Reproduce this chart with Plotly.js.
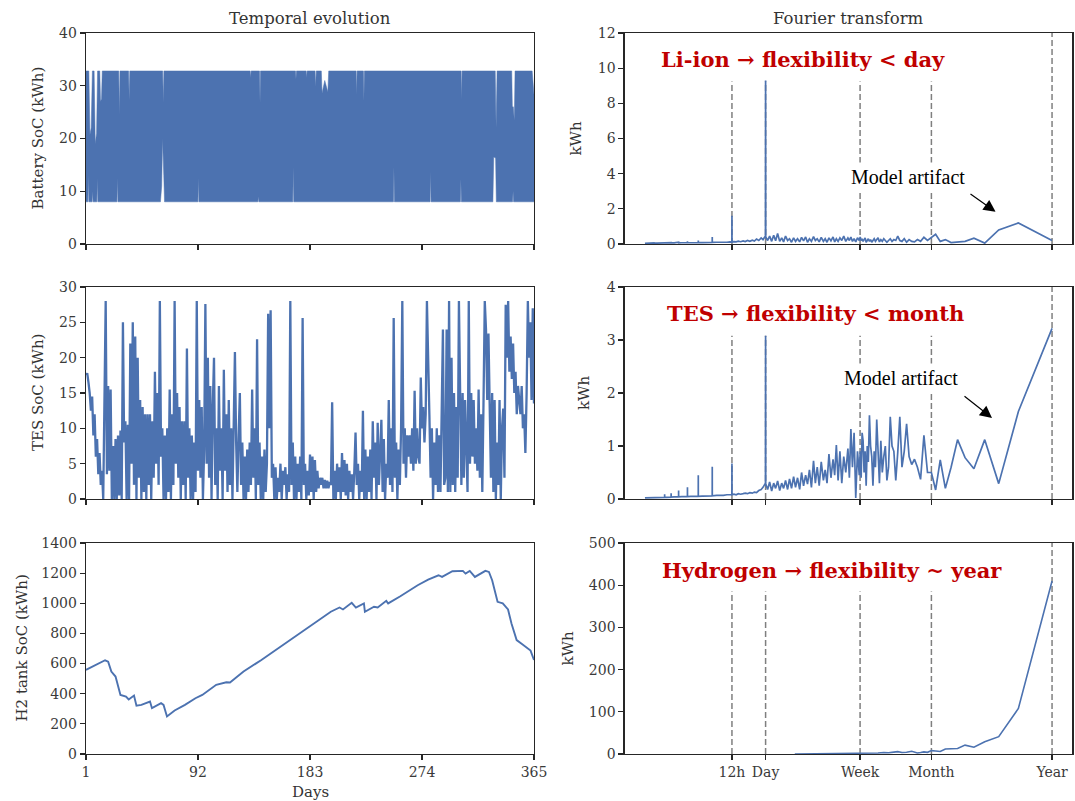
<!DOCTYPE html>
<html><head><meta charset="utf-8">
<script src="https://cdn.plot.ly/plotly-3.0.1.min.js"></script>
<style>html,body{margin:0;padding:0;background:#fff}#chart{width:1075px;height:801px}</style>
</head><body><div id="chart"></div>
<script>
// ---------------- data ----------------
const day_ticks = [1, 92, 183, 274, 365];

// Battery SoC: upper and lower envelope of the hourly band (kWh)
const bat_upper_day = [1,3.3,4.2,5.2,6.2,7.6,8.5,9.6,10.4,12.2,12.8,13.6,14.2,27.6,28.1,28.6,35.6,36.1,36.6,63.3,63.8,64.3,134.4,134.8,135.2,142,142.4,142.8,171.2,171.6,172,179.9,180.3,180.7,187.1,187.6,188.1,192.2,192.8,195,197.5,198.2,220.5,220.9,221.3,226.4,226.8,227.2,305.8,306.2,306.6,333.5,334.2,335,346.9,347.4,348.2,349,349.6,363.5,365];
const bat_upper     = [32.8,32.8,20.7,22,32.8,32.8,19,21,32.8,32.8,27,27.5,32.8,32.8,24.5,32.8,32.8,27.3,32.8,32.8,26.8,32.8,32.8,31.5,32.8,32.8,26.7,32.8,32.8,31.3,32.8,32.8,31.5,32.8,32.8,29.8,32.8,32.8,28.6,31,28.8,32.8,32.8,28.3,32.8,32.8,27.1,32.8,32.8,27.4,32.8,32.8,22,32.8,32.8,26,26,23.4,32.8,32.8,28.3];
const bat_lower_day = [1,2.5,2.9,3.3,6,6.4,6.8,9.8,10.2,10.6,26.1,26.5,26.9,61.5,62.5,63.2,64.2,64.8,91.9,92.3,92.7,140.6,141,141.4,169,169.4,169.8,250.8,251.2,251.6,280.6,281,281.4,305.2,305.6,306,331.6,332.3,333.8,334.4,347.6,348,348.4,365];
const bat_lower     = [8,8,13,8,8,10,8,8,12.4,8,8,12.5,8,8,11,20,13,8,8,12.5,8,8,9,8,8,14.6,8,8,14.6,8,8,13.7,8,8,12.3,8,8,16.5,16.3,8,8,10,8,8];

// TES SoC, one representative value per day (kWh)
const tes_soc = [
17.5,17.8,16.5,15,12.5,14.5,9,12,6,8.5,
3.5,6.5,2,4,0,19,28,3.5,16,4,
15.5,0,7.5,0,8.5,0,9,0.5,9.7,0,
25,8,11,0,10.5,0,22,5,25,2,
23,0,20,3,14,0,13,1,12,0,
12,2,12,0,11,3,18,5,15,2,
28,6,10,0,9,0,10,1,15.5,0,
12,2,28,5,15,3,13,0,11,2,
11,0,21.3,3,10,0,9,0,8,1,
28,4,14,3,13,0,7,27.6,5,20,
3,16,0,13,20,2,10,0,16,4,
10,0,18.3,4,12,1,14,2,10,0,
8,20.8,8,1,9,15,2,8,0,6,
0,7,1,8,2,15.5,3,10,0,22.6,
2,8,0,6,0,7,1,5,26.2,10,
26.7,3,5,0,4.5,0,3,1,5,0,
4,2,4.5,0,3.5,1,28,2,8,0,
6,0,5,1,6,0,25.6,2,5,0,
4,0.5,6.3,1,6,0,5.5,1,4,1.5,
3,2,3,1.5,2.7,1.5,2.6,1.5,2.4,2,
13.7,0,4,0,5,1,4.5,0,6.5,1,
5.5,0.5,5,0,4,1,3.5,0,4,9.4,
2,5,0,4,1,12.5,0,7,0,6,
1,7,0,11,3,8,0,10.8,2,8,
11.2,1,8.5,0,5,3,14,2,10,1,
25.6,3,8,0,7,2,10,28,5,10,
3,9,6,9,5,10,4,15.3,5,10,
6,5,17.2,10,13,8,12,28,21.5,12,
3,10,0,8,2,10,1,9,1,12,
24,2,3,24,1,28,1,20,2,15,
1,13,3,28,13,2,15,3,14,5,
1,28,5,15,6,14,5,10,4,15.5,
3,12,1,14,28,24,14,23.4,15,3,
15,1,14,0,8,2,14,0,10,12.8,
3,27.5,20,28,18,23,17,22,15,18,
12,16,14,12,16,10,12,6.5,15,28,
20,25,14,27,13.5];

// H2 tank SoC (kWh)
const h2_day = [1,15,16.5,19,21.6,25,29,33.5,35.7,40,42,46,50,53,54.6,59,62,64,66.8,73,81.4,89.9,95.5,106.8,115,118,129,143.5,157.6,171.7,185.8,199.9,207,209.8,216.9,220.3,226.8,227.6,235,238,245,246.5,256.4,270.5,279,287.4,290.3,298.7,307.2,309.4,312.8,317,325.5,328.4,331,335.4,339.6,343.9,346.7,350.9,355.2,359.4,362.2,365];
const h2_soc = [558,613,622,613,547,514,392,381,362,388,320,326,337,348,304,322,337,326,249,289,326,370,392,459,476,474,547,624,705,783,866,944,972,959,1003,972,999,944,977,972,1016,999,1047,1120,1157,1186,1175,1213,1215,1197,1215,1175,1215,1208,1153,1010,999,959,866,756,730,701,686,624];

// Fourier spectra: frequency in cycles per year (1 = year ... 4380 = 2 h)
const fft_cycles_per_year = [
4380,4200,4000,3800,3651,3650,3649,3400,3200,3000,
2921,2920,2919,2800,2700,2556,2555,2554,2400,2300,
2191,2190,2189,2050,1950,1826,1825,1824,1700,1600,
1461,1460,1459,1350,1250,1150,1096,1095,1094,1000,
930,870,810,760,731,730,729,700,670,640,
610,580,555,530,505,480,460,440,420,400,
385,366,365,364,350,336,322,309,297,285,
273,262,252,242,232,223,214,205,197,189,
181,174,167,160,154,148,142,136,131,126,
121,116,111,107,103,99,95,91,88,85,
82,79,76,73,70,67,65,63,61,59,
57,55,53,52,51,50,49,48,47,46,
45,44,43,42,41,40,39,38,37,36,
35,34,33,32,31,30,29,28,27,26,
25,24,23,22,21,20,19,18,17,16,
15,14,13,12,11,10,9,8,7,6,
5,4,3,2,1];
const liion_fft = [
0.04,0.05,0.04,0.05,0.05,0.06,0.05,0.05,0.06,0.05,
0.06,0.07,0.06,0.06,0.06,0.06,0.08,0.06,0.06,0.07,
0.06,0.1,0.06,0.07,0.06,0.07,0.15,0.07,0.07,0.08,
0.07,0.2,0.08,0.08,0.09,0.08,0.09,0.4,0.09,0.1,
0.09,0.11,0.1,0.12,0.11,1.6,0.12,0.14,0.12,0.16,
0.13,0.18,0.14,0.2,0.15,0.22,0.17,0.28,0.2,0.35,
0.25,0.45,9.3,0.4,0.2,0.45,0.15,0.5,0.18,0.6,
0.15,0.35,0.12,0.45,0.2,0.3,0.1,0.35,0.15,0.3,
0.12,0.38,0.18,0.4,0.1,0.3,0.15,0.42,0.2,0.3,
0.12,0.38,0.15,0.3,0.1,0.35,0.18,0.4,0.12,0.3,
0.15,0.35,0.2,0.45,0.15,0.35,0.2,0.4,0.15,0.3,
0.12,0.35,0.2,0.4,0.2,0.3,0.15,0.25,0.35,0.1,
0.2,0.3,0.15,0.25,0.1,0.2,0.3,0.15,0.25,0.35,
0.12,0.25,0.15,0.3,0.2,0.1,0.2,0.3,0.15,0.25,
0.2,0.45,0.2,0.15,0.3,0.1,0.25,0.15,0.12,0.25,
0.15,0.38,0.2,0.35,0.55,0.15,0.25,0.08,0.1,0.15,
0.33,0.05,0.8,1.2,0.2];
const tes_fft = [
0.02,0.02,0.02,0.025,0.02,0.03,0.02,0.025,0.03,0.03,
0.03,0.09,0.03,0.03,0.035,0.035,0.11,0.035,0.04,0.04,
0.04,0.16,0.04,0.045,0.04,0.045,0.22,0.045,0.05,0.05,
0.05,0.45,0.05,0.055,0.06,0.06,0.06,0.61,0.06,0.07,
0.065,0.07,0.08,0.08,0.08,0.67,0.08,0.09,0.08,0.1,
0.09,0.1,0.11,0.1,0.12,0.11,0.13,0.12,0.16,0.18,
0.22,0.3,3.08,0.28,0.18,0.32,0.15,0.3,0.2,0.34,
0.16,0.3,0.2,0.35,0.18,0.38,0.2,0.42,0.22,0.4,
0.18,0.5,0.25,0.45,0.28,0.55,0.22,0.72,0.3,0.6,
0.25,0.7,0.35,0.55,0.3,0.85,0.4,0.75,0.45,1.02,
0.35,0.9,0.3,0.8,0.5,0.95,0.4,1.32,0.6,1.25,
0.02,0.9,0.45,0.9,0.4,1.25,1.1,0.5,0.9,0.25,
1.0,0.7,1.58,1.0,0.8,0.25,0.9,0.6,1.5,1.0,
0.3,1.1,0.5,0.8,1.0,0.35,0.6,1.55,1.0,0.9,
0.35,0.88,1.55,0.6,0.9,1.42,0.8,0.65,0.75,0.6,
0.37,1.2,0.5,0.5,0.17,0.74,0.2,0.6,1.12,0.78,
0.57,1.12,0.29,1.65,3.22];
const h2_cycles_per_year = [200,120,90,70,60,52,45,40,36,32,29,26,24,22,20,18,16,15,14,13,12,11,10,9,8,7,6,5,4,3,2,1];
const h2_fft = [0.1,0.3,0.5,0.8,1,1.5,1.8,2.2,2.5,3.5,2.8,4.5,5.5,3.5,4,6.5,2.5,3.5,5,4,8,7,6,12,12,13,21,16,29,41,108,410];

// reference periods (cycles per year) and their labels
const period_marks = [730, 365, 52.14, 12, 1];
const period_labels = ['12h', 'Day', 'Week', 'Month', 'Year'];

// ---------------- drawing ----------------
const W = 1075, H = 801;
const px = v => v / W, py = v => 1 - v / H;
const BLUE = '#4c72b0', INK = '#262626', FONT = 'DejaVu Serif';
const tes_day = tes_soc.map((_, i) => i + 1);

function ax(extra) {
  return Object.assign({
    showline: true, mirror: true, linecolor: INK, linewidth: 1.25,
    ticks: 'outside', ticklen: 5, tickwidth: 1.25, tickcolor: INK,
    showgrid: false, zeroline: false, fixedrange: true, layer: 'above traces',
    tickfont: {family: FONT, size: 14, color: '#3a3a3a'}
  }, extra);
}
const LX = [px(86), px(534)], RX = [px(624.6), px(1072.4)];
const Y1 = [py(244), py(33)], Y2 = [py(499), py(287)], Y3 = [py(754), py(543)];
const leftX = (dom, anchor, labels) => ax({domain: dom, anchor: anchor, range: [1, 365], tickvals: day_ticks, showticklabels: labels});
const rightX = (anchor, labels) => ax({domain: RX, anchor: anchor, type: 'log', range: [3.82354, -0.18207], tickvals: period_marks, ticktext: period_labels, showticklabels: labels});

const line = (x, y, xa, ya, w) => ({x: x, y: y, xaxis: xa, yaxis: ya, mode: 'lines', line: {color: BLUE, width: w || 1.5}, hoverinfo: 'skip', showlegend: false});

const traces = [
  line(bat_lower_day, bat_lower, 'x', 'y', 0.5),
  Object.assign(line(bat_upper_day, bat_upper, 'x', 'y', 0.5), {fill: 'tonexty', fillcolor: BLUE}),
  line(fft_cycles_per_year, liion_fft, 'x2', 'y2', 1.7),
  line(tes_day, tes_soc, 'x3', 'y3', 2.3),
  line(fft_cycles_per_year, tes_fft, 'x4', 'y4', 1.7),
  line(h2_day, h2_soc, 'x5', 'y5', 1.9),
  line(h2_cycles_per_year, h2_fft, 'x6', 'y6', 1.6)
];

const shapes = [];
['2', '4', '6'].forEach(i => {
  period_marks.forEach(v => {
    shapes.push({type: 'line', xref: 'x' + i, yref: 'y' + i + ' domain', x0: v, x1: v, y0: 0, y1: v === 1 ? 1 : 0.77,
      line: {color: '#7f7f7f', width: 1.5, dash: '6px,3px'}, layer: 'below'});
  });
});

const txt = (t, x, y, o) => Object.assign({text: t, x: px(x), y: py(y), xref: 'paper', yref: 'paper', showarrow: false,
  xanchor: 'center', yanchor: 'middle', font: {family: FONT, size: 15, color: '#333'}}, o || {});
const vtxt = (t, x, y) => txt(t, x, y, {textangle: -90});
const red = (t, x, y) => txt(t, x, y, {font: {family: FONT, size: 21, color: '#c00000', weight: 'bold'}});
const artifact = (x, y) => txt('Model artifact', x, y, {bgcolor: '#ffffff', borderpad: 3, font: {family: 'Liberation Serif', size: 20, color: '#000'}});
const arrow = (x, y, dx, dy) => ({text: '', x: px(x), y: py(y), xref: 'paper', yref: 'paper', showarrow: true,
  ax: dx, ay: dy, arrowhead: 2, arrowsize: 2, arrowwidth: 1.2, arrowcolor: '#000', standoff: 0});

const annotations = [
  txt('Temporal evolution', 310, 19, {font: {family: FONT, size: 16.5, color: '#333'}}),
  txt('Fourier transform', 848, 19, {font: {family: FONT, size: 16.5, color: '#333'}}),
  txt('Days', 310, 792),
  vtxt('Battery SoC (kWh)', 38, 138.5),
  vtxt('TES SoC (kWh)', 38, 393),
  vtxt('H2 tank SoC (kWh)', 21, 648.5),
  vtxt('kWh', 576, 138.5),
  vtxt('kWh', 584, 393),
  vtxt('kWh', 567, 648.5),
  red('Li-ion → flexibility &lt; day', 803, 60),
  red('TES → flexibility &lt; month', 815.5, 313),
  red('Hydrogen → flexibility ~ year', 831.8, 570),
  artifact(908, 177),
  artifact(901, 378),
  arrow(995.6, 211.7, -26.6, -18.7),
  arrow(992, 418, -29, -23)
];

const layout = {
  width: W, height: H, margin: {l: 0, r: 0, t: 0, b: 0},
  paper_bgcolor: '#fff', plot_bgcolor: '#fff', showlegend: false,
  font: {family: FONT, color: '#333'},
  xaxis: leftX(LX, 'y', false), yaxis: ax({domain: Y1, anchor: 'x', range: [0, 40], tickvals: [0, 10, 20, 30, 40]}),
  xaxis2: rightX('y2', false), yaxis2: ax({domain: Y1, anchor: 'x2', range: [0, 12], tickvals: [0, 2, 4, 6, 8, 10, 12]}),
  xaxis3: leftX(LX, 'y3', false), yaxis3: ax({domain: Y2, anchor: 'x3', range: [0, 30], tickvals: [0, 5, 10, 15, 20, 25, 30]}),
  xaxis4: rightX('y4', false), yaxis4: ax({domain: Y2, anchor: 'x4', range: [0, 4], tickvals: [0, 1, 2, 3, 4]}),
  xaxis5: leftX(LX, 'y5', true), yaxis5: ax({domain: Y3, anchor: 'x5', range: [0, 1400], tickvals: [0, 200, 400, 600, 800, 1000, 1200, 1400]}),
  xaxis6: rightX('y6', true), yaxis6: ax({domain: Y3, anchor: 'x6', range: [0, 500], tickvals: [0, 100, 200, 300, 400, 500]}),
  shapes: shapes, annotations: annotations
};

Plotly.newPlot('chart', traces, layout, {staticPlot: true, displayModeBar: false});
</script>
</body></html>
